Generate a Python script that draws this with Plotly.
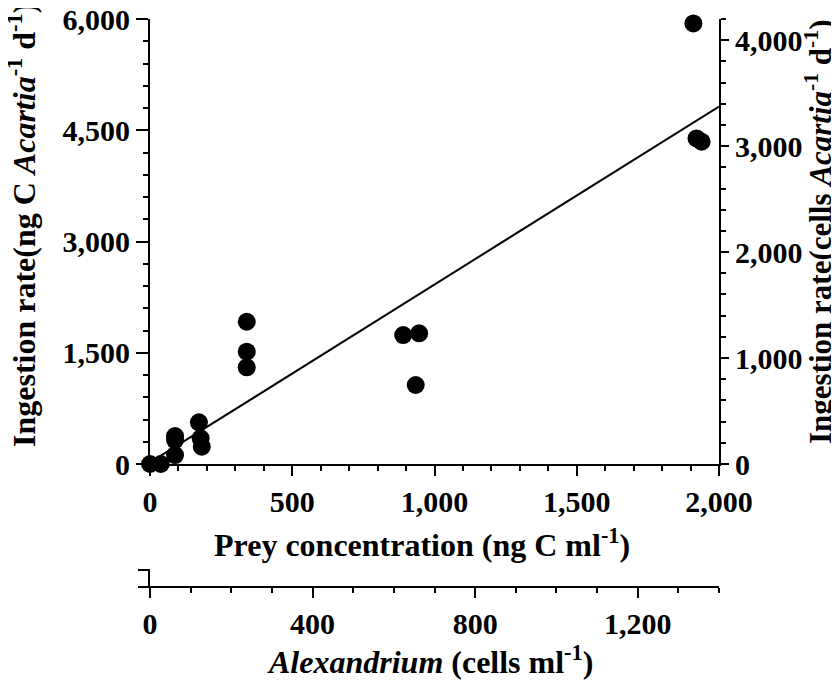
import plotly.graph_objects as go

# Data
prey_ngC = [0, 38, 88, 88, 88, 172, 178, 182, 340, 340, 340, 890, 946, 934, 1910, 1921, 1939]
ingestion_ngC = [0, 0, 121, 377, 323, 562, 346, 234, 1918, 1514, 1303, 1739, 1762, 1065, 5940, 4390, 4345]
fit_slope = 2.40
fit_intercept = 20
fit_x = [0, 2000]

left_range = [0, 6000]
right_range = [0, 4200]
bottom_range = [0, 2000]
cells_range = [0, 1400]

FONT = "Liberation Serif"
tickfont = dict(family=FONT, size=30, color="black", weight="bold")
tfont = dict(family=FONT, size=32, color="black")

fig = go.Figure()
fig.add_trace(go.Scatter(
    x=fit_x, y=[fit_intercept + fit_slope * v for v in fit_x],
    mode="lines", line=dict(color="black", width=2), xaxis="x", yaxis="y",
    showlegend=False, hoverinfo="skip"))
fig.add_trace(go.Scatter(
    x=prey_ngC, y=ingestion_ngC, mode="markers",
    marker=dict(color="black", size=18, line=dict(width=0)),
    cliponaxis=False, xaxis="x", yaxis="y", showlegend=False))
# invisible helpers so the extra axes are drawn
fig.add_trace(go.Scatter(x=[0], y=[0], xaxis="x", yaxis="y2", mode="markers",
                         marker=dict(opacity=0), showlegend=False, hoverinfo="skip"))
fig.add_trace(go.Scatter(x=[0], y=[0], xaxis="x2", yaxis="y", mode="markers",
                         marker=dict(opacity=0), showlegend=False, hoverinfo="skip"))

def axis(rng, dtick, minor_dtick, **kw):
    d = dict(range=rng, tickmode="linear", tick0=0, dtick=dtick, tickformat=",d",
             showline=True, linecolor="black", linewidth=2, automargin=False,
             ticklabeloverflow="allow",
             ticks="outside", ticklen=10, tickwidth=2, tickcolor="black",
             tickfont=tickfont, showgrid=False, zeroline=False,
             minor=dict(dtick=minor_dtick, tick0=0, ticks="outside", ticklen=5,
                        tickwidth=1.5, tickcolor="black", showgrid=False))
    d.update(kw)
    return d

# screen-pixel helpers (plot area: x 150..719, y 19..587 incl. lower axis)
def px(x):
    return (x - 150) / 569

def py(y):
    return (587 - y) / 568

ydom0 = py(464)

fig.update_layout(
    template="none",
    width=831, height=675,
    margin=dict(l=142, r=120, t=11, b=96, pad=0),
    plot_bgcolor="white", paper_bgcolor="white",
    showlegend=False,
    xaxis=axis(bottom_range, 500, 100, domain=[0, 1], anchor="y"),
    yaxis=axis(left_range, 1500, 300, domain=[ydom0, 1], anchor="x", ticklen=12),
    yaxis2=axis(right_range, 1000, 200, domain=[ydom0, 1], overlaying="y",
                side="right", anchor="x", ticklen=8),
    xaxis2=axis(cells_range, 400, 100, domain=[0, 1], overlaying="x",
                anchor="free", position=0, side="bottom"),
)

fig.add_annotation(text="<b>Ingestion rate(ng C <i>Acartia</i><sup>-1</sup> d<sup>-1</sup>)</b>",
                   xref="paper", yref="paper", x=px(22), y=py(225),
                   xanchor="center", yanchor="middle",
                   textangle=-90, showarrow=False, font=tfont)
fig.add_annotation(text="<b>Ingestion rate(cells <i>Acartia</i><sup>-1</sup> d<sup>-1</sup>)</b>",
                   xref="paper", yref="paper", x=px(818), y=py(232),
                   xanchor="center", yanchor="middle",
                   textangle=-90, showarrow=False, font=dict(tfont, size=31))
fig.add_annotation(text="<b>Prey concentration (ng C ml<sup>-1</sup>)</b>",
                   xref="paper", yref="paper", x=px(422), y=py(543),
                   xanchor="center", yanchor="middle",
                   showarrow=False, font=tfont)
fig.add_annotation(text="<b><i>Alexandrium</i> (cells ml<sup>-1</sup>)</b>",
                   xref="paper", yref="paper", x=px(430), y=py(660),
                   xanchor="center", yanchor="middle",
                   showarrow=False, font=tfont)

# small bracket at the start of the lower axis
fig.add_shape(type="path", xref="paper", yref="paper",
              path=f"M {px(138)} {py(570)} L {px(149)} {py(570)} "
                   f"L {px(149)} 0 M {px(138)} 0 L 0 0",
              line=dict(color="black", width=2))

fig.write_html("out.html")
